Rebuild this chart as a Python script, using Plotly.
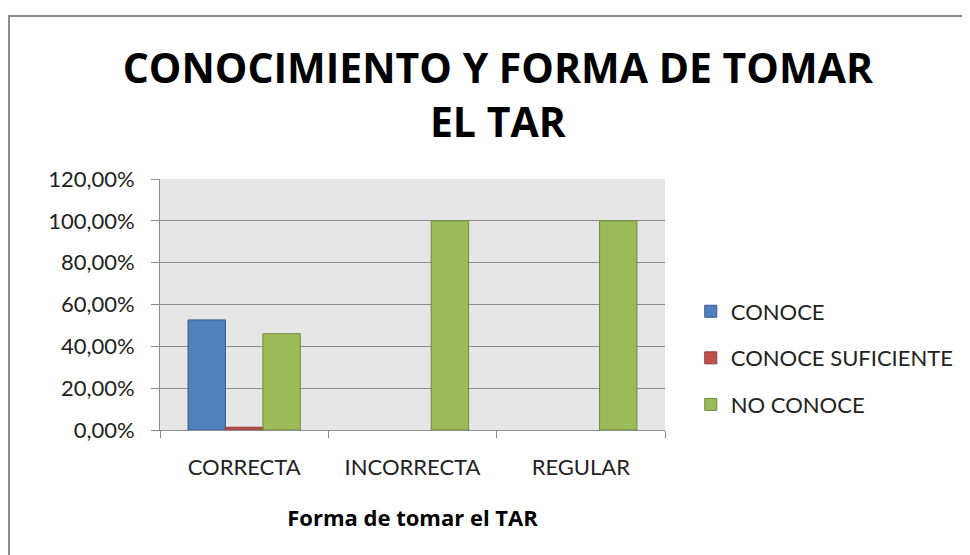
import plotly.graph_objects as go

categories = ["CORRECTA", "INCORRECTA", "REGULAR"]
series_names = ["CONOCE", "CONOCE SUFICIENTE", "NO CONOCE"]
conoce = [0.5263, None, None]
conoce_suficiente = [0.0132, None, None]
no_conoce = [0.4605, 1.0, 1.0]
y_ticks = [0, 0.2, 0.4, 0.6, 0.8, 1.0, 1.2]

fills = ["#4F81BD", "#C0504D", "#9BBB59"]
edges = ["#385D8A", "#8C3836", "#71893F"]

FONT = "Lato"
BOLD_FONT = "Open Sans"

fig = go.Figure()
for i, (name, vals) in enumerate(zip(series_names, [conoce, conoce_suficiente, no_conoce])):
    fig.add_trace(go.Bar(
        x=categories, y=vals, name=name,
        marker=dict(color=fills[i], line=dict(color=edges[i], width=1)),
        legendgroup=name,
    ))

# page has an 8px body margin, so figure coords = page coords - 8
fig.update_layout(
    width=970, height=555,
    margin=dict(l=152, r=313, t=171, b=133, autoexpand=False),
    paper_bgcolor="white",
    plot_bgcolor="#E6E6E6",
    separators=",.",
    barmode="group",
    bargap=0.333,
    bargroupgap=0,
    font=dict(family=FONT, color="#222222"),
    title=dict(
        text="<b>CONOCIMIENTO Y FORMA DE TOMAR<br>EL TAR</b>",
        x=0.505, xanchor="center", y=0.864, yanchor="middle",
        font=dict(family=BOLD_FONT, size=41, color="black"),
    ),
    legend=dict(
        x=1.051, xanchor="left", y=0.287, yanchor="middle",
        font=dict(family=FONT, size=22, color="#222222"),
        traceorder="grouped", tracegroupgap=15,
        itemwidth=30, bgcolor="rgba(0,0,0,0)",
    ),
    showlegend=True,
)

fig.update_yaxes(
    range=[0, 1.2], tickvals=y_ticks, tickformat=".2%",
    showgrid=True, gridcolor="#8C8C8C", gridwidth=1,
    showline=True, linecolor="#8C8C8C", linewidth=1,
    ticks="outside", ticklen=8, tickcolor="#8C8C8C",
    ticklabelstandoff=12,
    tickfont=dict(family=FONT, size=22, color="#222222"),
    zeroline=False, fixedrange=True,
)
fig.update_xaxes(
    showgrid=False,
    showline=True, linecolor="#8C8C8C", linewidth=1,
    ticks="outside", tickson="boundaries", ticklen=7, tickcolor="#8C8C8C",
    ticklabelstandoff=18,
    tickfont=dict(family=FONT, size=22, color="#222222"),
    title=dict(text="<b>Forma de tomar el TAR</b>",
               font=dict(family=BOLD_FONT, size=22, color="black"), standoff=31),
)

# outer chart border (left and top visible)
fig.add_shape(type="rect", xref="paper", yref="paper",
              x0=-0.299, x1=2.0, y0=-2.0, y1=1.649,
              line=dict(color="#8C8C8C", width=2), fillcolor="rgba(0,0,0,0)", layer="below")

fig.write_html("out.html")
